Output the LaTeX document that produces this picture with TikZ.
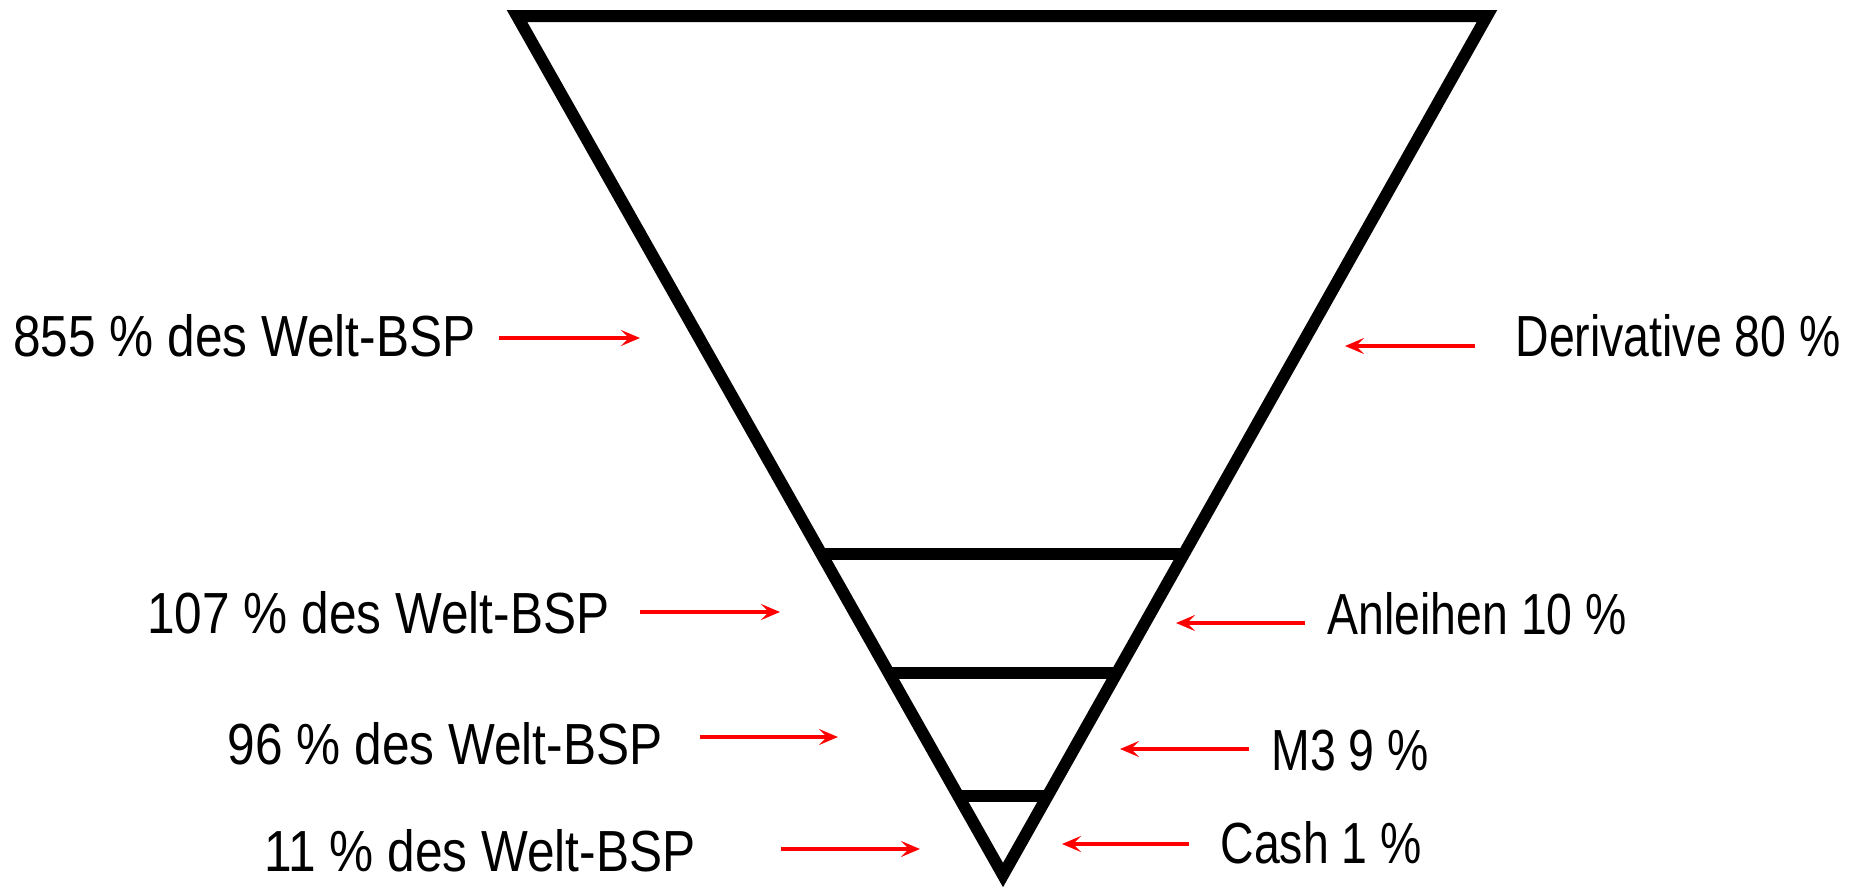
\documentclass[tikz,border=0pt]{standalone}
\usepackage{fontspec}
\newfontfamily\lblfont[FakeStretch=0.8]{Liberation Sans}
\newfontfamily\lblwide[FakeStretch=0.855]{Liberation Sans}
\usetikzlibrary{arrows.meta,calc}

\begin{document}
\begin{tikzpicture}[x=0.1mm,y=-0.1mm,
  txt/.style={inner sep=0pt,font=\lblfont\fontsize{16.5}{20}\selectfont},
  bsp/.style={txt,anchor=east,font=\lblwide\fontsize{16.5}{20}\selectfont},
  arr/.style={red,line width=0.4mm,-{Stealth[length=1.9mm,width=1.6mm,inset=0.8mm]}},
  edge/.style={line width=1.2mm}]
\useasboundingbox (0,0) rectangle (1850,888);
\coordinate (tl) at (517,16);
\coordinate (tr) at (1487,16);
\coordinate (apex) at (1003,875);
\draw[edge] (tl) -- (tr) -- (apex) -- cycle;
\draw[edge] ($(tl)!0.626!(apex)$) -- ($(tr)!0.626!(apex)$);
\draw[edge] ($(tl)!0.765!(apex)$) -- ($(tr)!0.765!(apex)$);
\draw[edge] ($(tl)!0.908!(apex)$) -- ($(tr)!0.908!(apex)$);
% left side
\node[bsp] at (476,336) (w855) {855 \% des Welt-BSP};
\node[bsp] at (610,613) (w107) {107 \% des Welt-BSP};
\node[bsp] at (663,744) (w96) {96 \% des Welt-BSP};
\node[bsp] at (696,851) (w11) {11 \% des Welt-BSP};
% right side
\node[txt,anchor=west] at (1515,336) (deriv) {Derivative 80 \%};
\node[txt,anchor=west] at (1327,614) (anl) {Anleihen 10 \%};
\node[txt,anchor=west] at (1271,751) (mdrei) {M3 9 \%};
\node[txt,anchor=west] at (1220,843) (cash) {Cash 1 \%};
% arrows
\coordinate (a1) at (499,338); \coordinate (b1) at (640,338);
\coordinate (a2) at (640,612); \coordinate (b2) at (780,612);
\coordinate (a3) at (700,737); \coordinate (b3) at (838,737);
\coordinate (a4) at (781,849); \coordinate (b4) at (920,849);
\coordinate (a5) at (1475,346); \coordinate (b5) at (1345,346);
\coordinate (a6) at (1305,623); \coordinate (b6) at (1176,623);
\coordinate (a7) at (1249,749); \coordinate (b7) at (1120,749);
\coordinate (a8) at (1189,844); \coordinate (b8) at (1062,844);
\foreach \i in {1,...,8}
  \draw[arr] (a\i) -- (b\i);
\end{tikzpicture}
\end{document}
